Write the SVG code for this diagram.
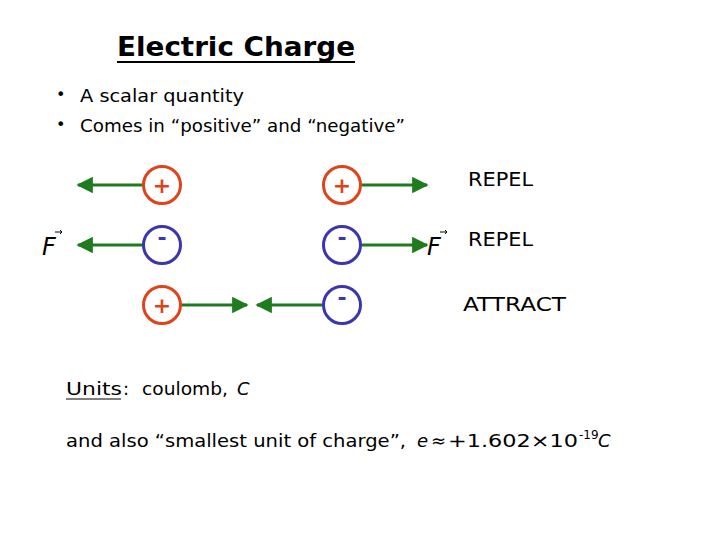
<svg xmlns="http://www.w3.org/2000/svg" width="720" height="540" viewBox="0 0 720 540">
<defs>
<marker id="ah" viewBox="0 0 10 10" refX="9" refY="5" markerWidth="5.5" markerHeight="5.5" orient="auto-start-reverse" markerUnits="strokeWidth">
<path d="M0,0 L10,5 L0,10 z" fill="#1e7b1e"/>
</marker>
<style>
text{font-family:"DejaVu Sans","Liberation Sans",sans-serif;fill:#000}
.pos circle{fill:#fff;stroke:#e0431a;stroke-width:3}
.neg circle{fill:#fff;stroke:#3b36b0;stroke-width:3}
.pos text{fill:#e0431a;font-size:22px;font-weight:bold;text-anchor:middle}
.neg text{fill:#3b36b0;font-size:22px;font-weight:bold;text-anchor:middle}
.arr{stroke:#1e7b1e;stroke-width:3;fill:none;marker-end:url(#ah)}
.lbl{font-size:19px}
.body{font-size:18px}
.F{font-size:24px;font-style:italic}
.vec{stroke:#000;stroke-width:1;fill:none}
</style>
</defs>
<rect width="720" height="540" fill="#fff"/>
<g id="title">
<text x="117" y="56" font-size="26" font-weight="bold" textLength="238" lengthAdjust="spacingAndGlyphs">Electric Charge</text>
<line x1="117" y1="62" x2="355" y2="62" stroke="#000" stroke-width="2"/>
</g>
<g id="bullets" class="body">
<text x="56" y="100" font-size="16">•</text>
<text x="80" y="102" textLength="164" lengthAdjust="spacingAndGlyphs">A scalar quantity</text>
<text x="56" y="130" font-size="16">•</text>
<text x="80" y="132" textLength="325" lengthAdjust="spacingAndGlyphs">Comes in “positive” and “negative”</text>
</g>
<g id="connectors">
<line class="arr" x1="143" y1="185" x2="78" y2="185"/>
<line class="arr" x1="361" y1="185" x2="427" y2="185"/>
<line class="arr" x1="143" y1="245" x2="78" y2="245"/>
<line class="arr" x1="361" y1="245" x2="427" y2="245"/>
<line class="arr" x1="181" y1="305" x2="247" y2="305"/>
<line class="arr" x1="322" y1="305" x2="257" y2="305"/>
</g>
<g id="p1" class="pos"><circle cx="162" cy="185" r="18.5"/><text x="162" y="193">+</text></g>
<g id="p2" class="pos"><circle cx="342" cy="185" r="18.5"/><text x="342" y="193">+</text></g>
<g id="n1" class="neg"><circle cx="162" cy="245" r="18.5"/><text x="162" y="245">-</text></g>
<g id="n2" class="neg"><circle cx="342" cy="245" r="18.5"/><text x="342" y="245">-</text></g>
<g id="p3" class="pos"><circle cx="162" cy="305" r="18.5"/><text x="162" y="313">+</text></g>
<g id="n3" class="neg"><circle cx="342" cy="305" r="18.5"/><text x="342" y="305">-</text></g>
<g id="F1">
<text class="F" x="42" y="255">F</text>
<line class="vec" x1="55" y1="232" x2="62" y2="232"/>
<path class="vec" d="M60,230 L62,232 L60,234"/>
</g>
<g id="F2">
<text class="F" x="427" y="255">F</text>
<line class="vec" x1="440" y1="232" x2="447" y2="232"/>
<path class="vec" d="M445,230 L447,232 L445,234"/>
</g>
<g id="labels" class="lbl">
<text x="468" y="186" textLength="65" lengthAdjust="spacingAndGlyphs">REPEL</text>
<text x="468" y="246" textLength="65" lengthAdjust="spacingAndGlyphs">REPEL</text>
<text x="463" y="311" textLength="103" lengthAdjust="spacingAndGlyphs">ATTRACT</text>
</g>
<g id="units" class="body">
<text x="66" y="395" textLength="56" lengthAdjust="spacingAndGlyphs">Units</text>
<line x1="66" y1="399" x2="121" y2="399" stroke="#000" stroke-width="1.2"/>
<text x="123" y="395">:</text>
<text x="142" y="395" textLength="86" lengthAdjust="spacingAndGlyphs">coulomb,</text>
<text x="237" y="395" font-style="italic">C</text>
</g>
<g id="smallest" class="body">
<text x="66" y="447" textLength="340" lengthAdjust="spacingAndGlyphs">and also “smallest unit of charge”,</text>
<text x="417" y="447" font-style="italic">e</text>
<text x="431" y="447">≈</text>
<text x="448" y="447" textLength="130" lengthAdjust="spacingAndGlyphs">+1.602×10</text>
<text x="579" y="439" font-size="12">-19</text>
<text x="598" y="447" font-style="italic">C</text>
</g>
</svg>
